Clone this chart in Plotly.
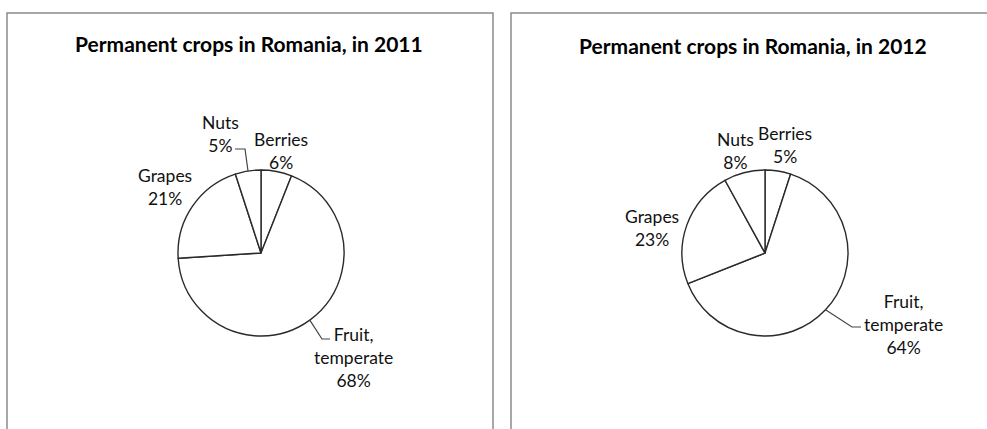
import math
import plotly.graph_objects as go

# Permanent crop shares (%) in Romania, clockwise from 12 o'clock
categories = ["Berries", "Fruit, temperate", "Grapes", "Nuts"]
label_lines = ["Berries", "Fruit,<br>temperate", "Grapes", "Nuts"]
years = ["2011", "2012"]
shares_2011 = [6, 68, 21, 5]
shares_2012 = [5, 64, 23, 8]

W, H = 987, 429
FONT = "Lato"

# Panel geometry in pixels
panels = [
    dict(year=years[0], values=shares_2011, cx=261, cy=253, r=83,
         box=(7, 13, 493, 440), title_xy=(249, 44),
         labels={"Berries": (281, 151), "Fruit, temperate": (353, 357),
                 "Grapes": (165, 187), "Nuts": (220, 134)},
         leaders={"Nuts": [(245, 149), (235, 149)],
                  "Fruit, temperate": [(322, 339), (330, 339)]}),
    dict(year=years[1], values=shares_2012, cx=765, cy=253, r=83,
         box=(511, 13, 1000, 440), title_xy=(753, 45),
         labels={"Berries": (785, 145), "Fruit, temperate": (903, 324),
                 "Grapes": (652, 228), "Nuts": (735, 151)},
         leaders={"Fruit, temperate": [(852, 327), (861, 327)]}),
]


def px(x):
    return x / W


def py(y):
    return 1 - y / H


fig = go.Figure()
shapes = []
annotations = []

for p in panels:
    cx, cy, r = p["cx"], p["cy"], p["r"]
    fig.add_trace(go.Pie(
        labels=categories,
        values=p["values"],
        sort=False,
        direction="clockwise",
        rotation=0,
        textinfo="none",
        hoverinfo="label+percent",
        marker=dict(colors=["white"] * len(categories),
                    line=dict(color="#2a2a2a", width=1.4)),
        domain=dict(x=[px(cx - r), px(cx + r)], y=[py(cy + r), py(cy - r)]),
        showlegend=False,
    ))

    # panel frame
    x0, y0, x1, y1 = p["box"]
    shapes.append(dict(type="rect", xref="paper", yref="paper",
                       x0=px(x0), y0=py(y1), x1=px(x1), y1=py(y0),
                       line=dict(color="#8a8a8a", width=1.5),
                       fillcolor="rgba(0,0,0,0)", layer="below"))

    # title
    tx, ty = p["title_xy"]
    annotations.append(dict(
        text=f"<b>Permanent crops in Romania, in {p['year']}</b>",
        x=px(tx), y=py(ty), xref="paper", yref="paper",
        xanchor="center", yanchor="middle", showarrow=False,
        font=dict(family=FONT, size=21, color="#000000")))

    total = sum(p["values"])
    start = 0.0
    for cat, lines, v in zip(categories, label_lines, p["values"]):
        pct = round(100 * v / total)
        mid = (start + v / 2) / total * 2 * math.pi
        start += v
        lx, ly = p["labels"][cat]
        annotations.append(dict(
            text=f"{lines}<br>{pct}%",
            x=px(lx), y=py(ly), xref="paper", yref="paper",
            xanchor="center", yanchor="middle", align="center",
            showarrow=False,
            font=dict(family=FONT, size=17.5, color="#111111")))
        if cat in p["leaders"]:
            ex = cx + r * math.sin(mid)
            ey = cy - r * math.cos(mid)
            pts = [(ex, ey)] + p["leaders"][cat]
            path = "M " + " L ".join(f"{px(a):.5f},{py(b):.5f}" for a, b in pts)
            shapes.append(dict(type="path", xref="paper", yref="paper",
                               path=path, line=dict(color="#444444", width=1.2)))

fig.update_layout(
    width=W, height=H,
    margin=dict(l=0, r=0, t=0, b=0),
    paper_bgcolor="white", plot_bgcolor="white",
    shapes=shapes, annotations=annotations,
)

fig.write_html("out.html")
